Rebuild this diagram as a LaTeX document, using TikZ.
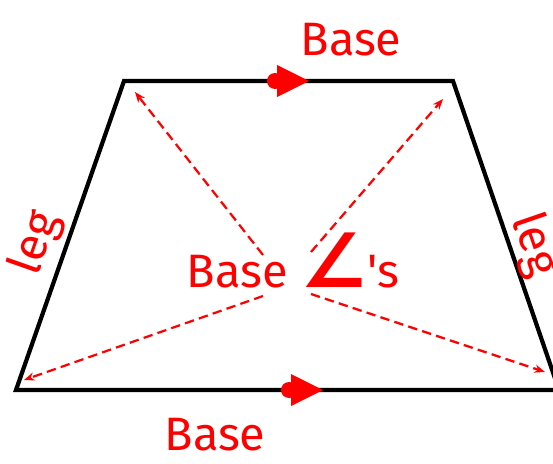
\documentclass[tikz,border=0pt]{standalone}
\usepackage{fontspec}
\usepackage{tikz}
\usetikzlibrary{arrows.meta}
\newfontfamily\basefont{Fira Sans}
\newfontfamily\anglefont{DejaVu Sans}
\newcommand{\parmark}[1]{\fill[red] (#1) circle (8); \fill[red] (#1) ++(2,16) -- ++(32,-16) -- ++(-32,-16) -- cycle;}
\tikzset{diag/.style={red,line width=1.9pt,dash pattern=on 8pt off 4.5pt,-{Stealth[length=9pt,width=7pt]}},
	lbl/.style={text=red,inner sep=0pt,font=\basefont\fontsize{40}{44}\selectfont}}

\begin{document}
\begin{tikzpicture}[x=0.03cm,y=0.03cm]
	\useasboundingbox (0,0) rectangle (553,463);
	\clip (0,0) rectangle (553,463);
	%	\draw[help lines,step=50] (0,0) grid (553,463);

		\coordinate (tl) at (124,382);
		\coordinate (tr) at (453,382);
		\coordinate (bl) at (16,73);
		\coordinate (br) at (559,73);

		\draw[black,line width=3.6pt] (bl) -- (tl) -- (tr) -- (br) -- cycle;

		\parmark{275,382}
		\parmark{289,73}

		\coordinate (s1) at (263,208);
		\coordinate (s2) at (311,211);
		\coordinate (s3) at (263,167);
		\coordinate (s4) at (311,169);
		\coordinate (e1) at (135,371);
		\coordinate (e2) at (443,364);
		\coordinate (e3) at (24,83);
		\coordinate (e4) at (545,91);

		\draw[diag] (s1) to (e1);
		\draw[diag] (s2) to (e2);
		\draw[diag] (s3) to (e3);
		\draw[diag] (s4) to (e4);

		\node[lbl] (topbase) at (351,423) {Base};
		\node[lbl] (botbase) at (215,28) {Base};
		\node[lbl,anchor=base] (angles) at (293,176) {Base {\anglefont\bfseries\fontsize{64}{64}\selectfont ∠}'s};
		\node[lbl,rotate=70.7] (leftleg) at (36,220) {leg};
		\node[lbl,rotate=-71] (rightleg) at (534,218) {leg};
\end{tikzpicture}
\end{document}
